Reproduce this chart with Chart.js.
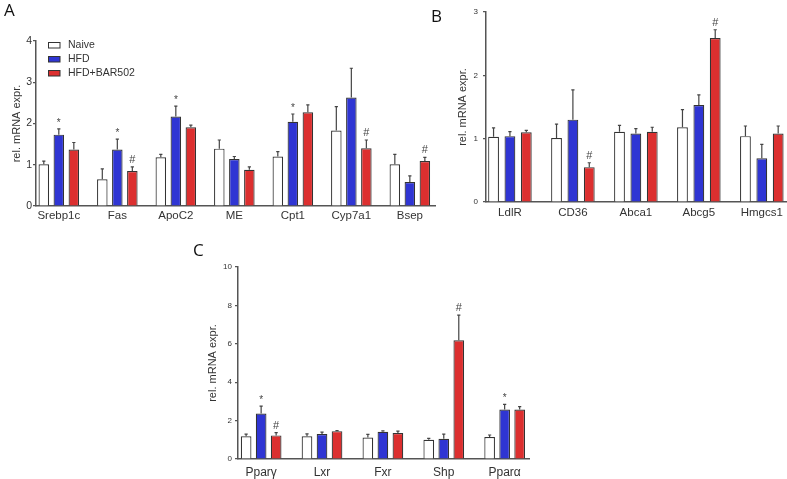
<!DOCTYPE html>
<html>
<head>
<meta charset="utf-8">
<script src="https://cdn.jsdelivr.net/npm/chart.js@4.4.1/dist/chart.umd.min.js"></script>
<style>
  html, body { margin: 0; padding: 0; background: #fff; }
  #wrap { position: relative; width: 787px; height: 479px; overflow: hidden; }
  .panel { position: absolute; }
  .tag { position: absolute; font-family: 'Open Sans', 'DejaVu Sans', sans-serif; font-size: 17px; color: #111; line-height: 1; }
</style>
</head>
<body>
<div id="wrap">
  <div class="panel" style="left:0;top:0;width:450px;height:240px"><canvas id="chart-a"></canvas></div>
  <div class="panel" style="left:450px;top:0;width:337px;height:240px"><canvas id="chart-b"></canvas></div>
  <div class="panel" style="left:190px;top:250px;width:350px;height:229px"><canvas id="chart-c"></canvas></div>
  <div class="tag" style="left:4px;top:1px">A</div>
  <div class="tag" style="left:431px;top:7px">B</div>
  <div class="tag" style="left:193px;top:241px">C</div>
</div>
<script>
const groups = ['Naive', 'HFD', 'HFD+BAR502'];
const fills = ['#ffffff', '#2f35d3', '#dc2f2f'];

// Panel A
const genesA = ['Srebp1c', 'Fas', 'ApoC2', 'ME', 'Cpt1', 'Cyp7a1', 'Bsep'];
const naiveA = [1.01, 0.65, 1.18, 1.39, 1.20, 1.83, 1.01];
const hfdA = [1.73, 1.37, 2.17, 1.14, 2.04, 2.63, 0.58];
const barA = [1.37, 0.85, 1.91, 0.88, 2.27, 1.40, 1.09];
const naiveSemA = [0.08, 0.25, 0.07, 0.21, 0.12, 0.58, 0.24];
const hfdSemA = [0.14, 0.25, 0.25, 0.06, 0.19, 0.71, 0.15];
const barSemA = [0.17, 0.10, 0.05, 0.07, 0.18, 0.20, 0.09];
const hfdSigA = ['*', '*', '*', '', '*', '', ''];
const barSigA = ['', '#', '', '', '', '#', '#'];

// Panel B
const genesB = ['LdlR', 'CD36', 'Abca1', 'Abcg5', 'Hmgcs1'];
const naiveB = [1.03, 1.01, 1.11, 1.18, 1.04];
const hfdB = [1.04, 1.30, 1.08, 1.53, 0.69];
const barB = [1.10, 0.55, 1.11, 2.59, 1.08];
const naiveSemB = [0.14, 0.22, 0.10, 0.28, 0.16];
const hfdSemB = [0.07, 0.47, 0.08, 0.16, 0.22];
const barSemB = [0.03, 0.07, 0.07, 0.13, 0.12];
const hfdSigB = ['', '', '', '', ''];
const barSigB = ['', '#', '', '#', ''];

// Panel C
const genesC = ['Ppar\u03b3', 'Lxr', 'Fxr', 'Shp', 'Ppar\u03b1'];
const naiveC = [1.18, 1.18, 1.12, 1.00, 1.14];
const hfdC = [2.37, 1.30, 1.42, 1.05, 2.58];
const barC = [1.23, 1.45, 1.35, 6.18, 2.58];
const naiveSemC = [0.12, 0.13, 0.16, 0.07, 0.11];
const hfdSemC = [0.38, 0.10, 0.05, 0.25, 0.26];
const barSemC = [0.14, 0.03, 0.10, 1.31, 0.15];
const hfdSigC = ['*', '', '', '', '*'];
const barSigC = ['#', '', '', '#', ''];

const FONT = "'Liberation Sans', Arial, sans-serif";
const AXIS = '#555';
const TEXT = '#333';

// error bars (upper only) + significance marks
const errorBars = {
  id: 'errorBars',
  afterDatasetsDraw(chart) {
    const { ctx } = chart;
    const y = chart.scales.y;
    chart.data.datasets.forEach((ds, di) => {
      chart.getDatasetMeta(di).data.forEach((bar, i) => {
        const top = y.getPixelForValue(ds.data[i].y + ds.sem[i]);
        ctx.save();
        ctx.strokeStyle = '#444';
        ctx.lineWidth = 1.2;
        ctx.beginPath();
        ctx.moveTo(bar.x, bar.y);
        ctx.lineTo(bar.x, top);
        ctx.moveTo(bar.x - 1.6, top);
        ctx.lineTo(bar.x + 1.6, top);
        ctx.stroke();
        const mark = ds.sig && ds.sig[i];
        if (mark) {
          ctx.fillStyle = '#444';
          ctx.textAlign = 'center';
          ctx.textBaseline = 'alphabetic';
          if (mark === '*') {
            ctx.font = '10px ' + FONT;
            ctx.fillText(mark, bar.x, top - 3);
          } else {
            ctx.font = '11px ' + FONT;
            ctx.fillText(mark, bar.x, top - 4);
          }
        }
        ctx.restore();
      });
    });
  }
};

// legend inside panel A's plot area
const insideLegend = {
  id: 'insideLegend',
  afterDraw(chart, args, opts) {
    if (!opts.show) return;
    const { ctx, chartArea } = chart;
    groups.forEach((g, i) => {
      const x = chartArea.left + 12;
      const y = chartArea.top + 1 + i * 14;
      ctx.save();
      ctx.fillStyle = fills[i];
      ctx.strokeStyle = '#333';
      ctx.lineWidth = 1;
      ctx.fillRect(x, y, 12, 6);
      ctx.strokeRect(x + 0.5, y + 0.5, 11.5, 5.5);
      ctx.fillStyle = TEXT;
      ctx.font = '10.5px ' + FONT;
      ctx.textBaseline = 'middle';
      ctx.fillText(g, x + 20, y + 3.5);
      ctx.restore();
    });
  }
};

function makePanel(id, cfg) {
  const series = [cfg.naive, cfg.hfd, cfg.bar];
  const sems = [cfg.naiveSem, cfg.hfdSem, cfg.barSem];
  const sigs = [null, cfg.hfdSig, cfg.barSig];
  const n = cfg.genes.length;
  return new Chart(document.getElementById(id), {
    type: 'bar',
    data: {
      datasets: series.map((vals, k) => ({
        label: groups[k],
        data: vals.map((v, i) => ({ x: i, y: v })),
        sem: sems[k],
        sig: sigs[k],
        backgroundColor: fills[k],
        borderColor: '#333',
        borderWidth: 1.2,
        categoryPercentage: cfg.catPct,
        barPercentage: cfg.barPct,
      }))
    },
    options: {
      responsive: true,
      maintainAspectRatio: false,
      animation: false,
      layout: { padding: { top: cfg.top, right: cfg.right, left: 0, bottom: 0 } },
      plugins: {
        legend: { display: false },
        tooltip: { enabled: false },
        insideLegend: { show: !!cfg.legend },
      },
      scales: {
        x: {
          type: 'linear',
          offset: false,
          min: -cfg.lead,
          max: n - 1 + cfg.trail,
          grid: { display: false, drawTicks: false },
          border: { color: AXIS, width: 1.5 },
          afterBuildTicks: s => { s.ticks = cfg.genes.map((_, i) => ({ value: i })); },
          ticks: {
            callback: v => cfg.genes[v],
            color: TEXT,
            font: { family: FONT, size: cfg.xFont },
            padding: cfg.xPad,
            autoSkip: false,
            maxRotation: 0,
          },
          afterFit: s => { s.height = cfg.xh; },
        },
        y: {
          min: 0,
          max: cfg.yMax,
          border: { color: AXIS, width: 1.5 },
          grid: { drawOnChartArea: false, tickLength: 3, color: AXIS, lineWidth: 1.2 },
          ticks: { stepSize: cfg.yStep, color: TEXT, font: { family: FONT, size: cfg.yFont }, padding: cfg.yPad },
          title: {
            display: true,
            text: 'rel. mRNA expr.',
            color: TEXT,
            font: { family: FONT, size: 11 },
            padding: { top: cfg.titlePad, bottom: 0 },
          },
          afterFit: s => { s.width = cfg.yw; },
        }
      }
    },
    plugins: [errorBars, insideLegend]
  });
}

makePanel('chart-a', {
  genes: genesA, naive: naiveA, hfd: hfdA, bar: barA,
  naiveSem: naiveSemA, hfdSem: hfdSemA, barSem: barSemA,
  hfdSig: hfdSigA, barSig: barSigA,
  yMax: 4, yStep: 1, yw: 36, xh: 34, top: 41, right: 15,
  lead: 0.39, trail: 0.43, catPct: 0.77, barPct: 0.7,
  xFont: 11.5, xPad: 3, yFont: 10.5, yPad: 1, titlePad: 10.4, legend: true,
});

makePanel('chart-b', {
  genes: genesB, naive: naiveB, hfd: hfdB, bar: barB,
  naiveSem: naiveSemB, hfdSem: hfdSemB, barSem: barSemB,
  hfdSig: hfdSigB, barSig: barSigB,
  yMax: 3, yStep: 1, yw: 36, xh: 38, top: 12, right: 0,
  lead: 0.38, trail: 0.4, catPct: 0.78, barPct: 0.66,
  xFont: 11.5, xPad: 4, yFont: 8, yPad: 5, titlePad: 6.4,
});

makePanel('chart-c', {
  genes: genesC, naive: naiveC, hfd: hfdC, bar: barC,
  naiveSem: naiveSemC, hfdSem: hfdSemC, barSem: barSemC,
  hfdSig: hfdSigC, barSig: barSigC,
  yMax: 10, yStep: 2, yw: 48, xh: 20, top: 17, right: 11,
  lead: 0.38, trail: 0.4, catPct: 0.74, barPct: 0.71,
  xFont: 12, xPad: 6, yFont: 8, yPad: 3, titlePad: 16.4,
});
</script>
</body>
</html>
